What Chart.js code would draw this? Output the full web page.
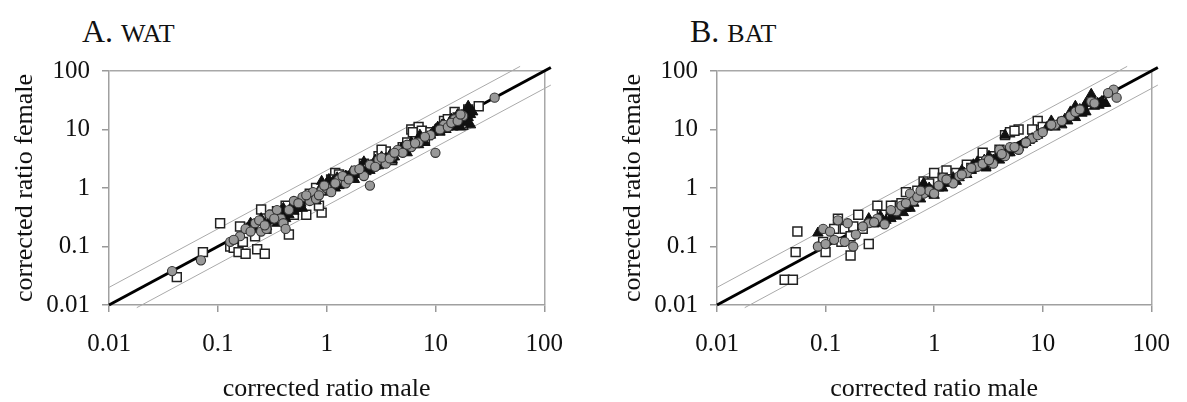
<!DOCTYPE html>
<html>
<head>
<meta charset="utf-8">
<script src="https://cdn.jsdelivr.net/npm/chart.js@4/dist/chart.umd.min.js"></script>
<style>
  body { margin: 0; background: #fff; width: 1187px; height: 402px; position: relative; overflow: hidden; }
  .panel { position: absolute; top: 0; height: 402px; }
  .ttl { position: absolute; font-family: "Liberation Serif", serif; font-size: 32px; color: #111; line-height: 1; }
  .ttl span { font-size: 26px; }
</style>
</head>
<body>
<div class="ttl" style="left:82px; top:15px;">A. <span>WAT</span></div>
<div class="ttl" style="left:690px; top:15px;">B. <span>BAT</span></div>
<div class="panel" style="left:0; width:580px;"><canvas id="wat"></canvas></div>
<div class="panel" style="left:608px; width:579px;"><canvas id="bat"></canvas></div>
<script>
// [male, female] corrected ratios
const watSquares = [[0.042,0.03],[0.073,0.08],[0.105,0.25],[0.13,0.1],[0.14,0.095],[0.155,0.08],[0.16,0.22],
  [0.18,0.075],[0.17,0.12],[0.2,0.21],[0.22,0.15],[0.23,0.09],[0.25,0.43],[0.27,0.075],[0.28,0.2],[0.3,0.3],
  [0.32,0.35],[0.4,0.28],[0.45,0.16],[0.5,0.35],[0.65,0.35],[0.9,0.38],[0.85,0.5],[1.2,1.8],[1.5,1.6],[2.8,2.5],
  [3.5,4.2],[4,3],[6,10],[7,11],[6.5,8],[12,14],[15,20],[20,22],[25,25],[11,10],[18,12],[5,5],[0.7,0.8],[1.0,1.1],
  [0.35,0.4],[0.42,0.5],[0.55,0.55],[0.8,1.0],[1.1,1.4],[1.3,1.7],[2.2,2.6],[3,3.5],[3.2,4.5],[5.5,6],[6.2,9],
  [7.5,9.5],[8,6.5],[9,9],[13,15],[16,16],[19,18]];
const watCircles = [[0.038,0.038],[0.07,0.058],[0.13,0.12],[0.16,0.15],[0.18,0.2],[0.2,0.18],[0.22,0.25],
  [0.25,0.18],[0.28,0.2],[0.3,0.35],[0.35,0.42],[0.38,0.3],[0.4,0.25],[0.42,0.2],[0.5,0.6],[0.6,0.7],[0.7,0.6],
  [0.75,0.85],[0.8,0.65],[0.9,0.9],[1.0,1.0],[1.1,0.85],[1.3,1.4],[1.5,1.2],[1.8,2.0],[2.2,1.6],[2.5,1.1],
  [2.5,2.5],[3.0,3.0],[3.5,2.6],[4,3.5],[4.5,4.5],[5,4],[6,5],[7,6],[9,8],[10,4],[12,12],[15,15],[18,17],[35,35],
  [0.14,0.13],[0.24,0.28],[0.27,0.23],[0.33,0.3],[0.45,0.42],[0.55,0.55],[0.65,0.75],[0.85,0.75],[0.95,1.1],
  [1.2,1.2],[1.4,1.6],[1.6,1.4],[2.0,2.1],[2.8,2.3],[3.2,3.3],[3.8,3.2],[4.2,4.0],[5.5,5.5],[6.5,5.8],[8,7.5],
  [11,10],[13,11],[14,13],[16,14],[17,18]];
const watTriangles = [[0.25,0.3],[0.3,0.28],[0.35,0.25],[0.4,0.45],[0.45,0.35],[0.5,0.4],[0.55,0.5],[0.6,0.45],
  [0.7,0.7],[0.8,0.6],[0.85,0.9],[0.9,1.3],[1.0,1.2],[1.1,1.1],[1.2,1.0],[1.4,1.3],[1.6,1.5],[1.8,1.4],[2.0,2.0],
  [2.2,2.8],[2.5,2.0],[2.8,3.0],[3.0,2.4],[3.5,3.2],[4.0,3.0],[4.5,4.0],[5,5],[5.5,4],[6,6],[7,5.5],[7.5,7],[8,6],
  [10,10],[11,9],[12,12],[13,11],[14,15],[15,12],[16,18],[17,11],[18,13],[19,20],[20,16],[20,25],[21,12],
  [0.2,0.25],[0.22,0.2],[0.28,0.22],[0.32,0.32],[0.38,0.4],[0.42,0.3],[0.48,0.5],[0.52,0.45],[0.58,0.55],
  [0.65,0.6],[0.75,0.8],[0.78,0.65],[0.95,0.85],[1.05,1.4],[1.15,1.3],[1.25,1.5],[1.3,1.1],[1.5,1.6],[1.7,1.9],
  [1.9,1.7],[2.1,2.2],[2.3,1.9],[2.6,2.4],[2.9,2.7],[3.2,3.4],[3.3,2.8],[3.8,3.6],[4.2,3.4],[4.8,4.6],[5.2,4.4],
  [5.8,5.2],[6.5,5.5],[6.8,6.5],[7.2,8],[8.5,7.5],[9,8],[9.5,9],[10.5,11],[11.5,12],[12.5,10],[13.5,13],
  [14.5,11],[15.5,14],[16.5,15],[17.5,16],[18.5,17],[19.5,14],[20.5,22],[21,18],[22,20]];

const batSquares = [[0.042,0.027],[0.05,0.027],[0.053,0.08],[0.055,0.18],[0.1,0.08],[0.095,0.12],[0.12,0.2],
  [0.13,0.3],[0.14,0.12],[0.15,0.2],[0.17,0.07],[0.17,0.15],[0.18,0.22],[0.2,0.35],[0.22,0.2],[0.25,0.11],
  [0.3,0.5],[0.35,0.3],[0.45,0.5],[0.55,0.85],[0.8,1.3],[1.0,1.8],[1.3,2.0],[2.5,2.5],[2.8,4],[3,2.5],[4.5,8],
  [5,9],[6,10],[9,14],[10,11],[2,2.5],[0.28,0.26],[0.33,0.35],[0.4,0.5],[0.5,0.55],[0.7,0.9],[0.9,1.2],[1.2,1.5],
  [1.6,1.8],[2.2,2.2],[3.5,3.5],[5.5,9.5],[8,10],[4,4.5]];
const batCircles = [[0.085,0.1],[0.095,0.2],[0.12,0.13],[0.13,0.28],[0.15,0.12],[0.18,0.1],[0.19,0.16],
  [0.25,0.25],[0.3,0.3],[0.35,0.24],[0.45,0.4],[0.5,0.5],[0.6,0.8],[0.65,0.6],[0.8,0.8],[0.9,0.9],[1.0,0.8],
  [1.2,1.5],[1.5,1.2],[1.7,1.6],[2.0,1.8],[2.5,2.3],[3,3],[3.5,2.6],[4,4.5],[4.5,3.5],[5,5],[6,4.5],[8,7],[9,8],
  [13,12],[18,17],[28,30],[45,48],[48,35],[0.1,0.11],[0.11,0.18],[0.16,0.25],[0.22,0.22],[0.28,0.26],[0.4,0.42],
  [0.55,0.55],[0.7,0.7],[0.75,0.9],[1.1,1.1],[1.3,1.4],[1.8,1.7],[2.2,2.2],[2.8,2.6],[3.2,3.0],[4.2,3.8],
  [5.5,5.0],[7,6],[10,9],[12,12],[15,14],[20,20],[22,22],[30,28],[40,42]];
const batTriangles = [[0.085,0.17],[0.25,0.3],[0.3,0.25],[0.4,0.3],[0.5,0.4],[0.55,0.45],[0.6,0.45],[0.7,0.7],
  [0.8,1.2],[0.9,1.0],[1.0,0.75],[1.2,1.0],[1.3,1.3],[1.6,1.3],[1.8,2.0],[2.0,1.7],[2.5,2.8],[3.0,2.2],[3.2,3.5],
  [4,3],[4.5,8],[5,4],[6,5],[7,6],[8,7],[12,14],[13,11],[15,12],[18,20],[20,25],[20,16],[22,22],[25,20],[28,40],
  [30,25],[32,28],[35,30],[38,28],[25,28],[0.32,0.33],[0.36,0.28],[0.42,0.38],[0.45,0.33],[0.48,0.45],[0.52,0.38],
  [0.58,0.5],[0.65,0.55],[0.75,0.65],[0.85,0.8],[0.95,0.9],[1.1,1.0],[1.15,1.2],[1.4,1.2],[1.5,1.5],[1.7,1.5],
  [1.9,1.8],[2.2,2.0],[2.3,2.5],[2.7,2.4],[2.9,3.0],[3.5,3.0],[3.8,3.4],[4.2,4.2],[4.8,4.0],[5.5,4.5],[6.5,5.5],
  [7.5,6.5],[9,8],[11,11],[12.5,12],[14,13],[16,15],[17,14],[19,18],[21,20],[23,19],[24,24],[27,30],[29,32],
  [33,26],[36,28]];

// reference lines: identity and 2-fold limits
const identityLine = [[0.01,0.01],[115,115]];
const upperLine = [[0.01,0.02],[60,120]];
const lowerLine = [[0.018,0.009],[115,57.5]];

const tickValues = [0.01, 0.1, 1, 10, 100];
const tickLabels = ['0.01', '0.1', '1', '10', '100'];

const serif = '"Liberation Serif", "Times New Roman", serif';
const pts = arr => arr.map(p => ({ x: p[0], y: p[1] }));

function lineSet(arr, color, width) {
  return { type: 'line', data: pts(arr), borderColor: color, borderWidth: width,
    pointRadius: 0, fill: false, clip: false, order: 10 };
}

function axis(isX) {
  return {
    type: 'logarithmic', min: 0.01, max: 100,
    afterBuildTicks: s => { s.ticks = tickValues.map(v => ({ value: v })); },
    afterFit: s => { if (isX) s.height = 97; else s.width = 109; },
    ticks: {
      color: '#111', padding: isX ? 17 : 12,
      font: { family: serif, size: 25 },
      maxRotation: 0, autoSkip: false,
      callback: v => tickLabels[tickValues.indexOf(v)]
    },
    grid: {
      color: c => (c.tick && c.tick.value === 100) ? '#a8a8a8' : 'rgba(0,0,0,0)',
      tickColor: '#999', tickLength: 7, lineWidth: 1.5
    },
    border: { display: true, color: '#a0a0a0', width: 1.5 },
    title: {
      display: true,
      text: isX ? 'corrected ratio male' : 'corrected ratio female',
      color: '#111', font: { family: serif, size: 26, lineHeight: 1 },
      padding: isX ? { top: 0, bottom: 0 } : { top: 12, bottom: 0 }
    }
  };
}

function makeChart(id, squares, circles, triangles, padRight) {
  new Chart(document.getElementById(id), {
    type: 'scatter',
    data: {
      datasets: [
        { label: 'squares', data: pts(squares), pointStyle: 'rect', pointRadius: 6.3,
          backgroundColor: '#fff', borderColor: '#222', borderWidth: 1.5, order: 3 },
        { label: 'triangles', data: pts(triangles), pointStyle: 'triangle', pointRadius: 6,
          backgroundColor: '#111', borderColor: '#111', borderWidth: 1, order: 2 },
        { label: 'circles', data: pts(circles), pointStyle: 'circle', pointRadius: 4.6,
          backgroundColor: '#999', borderColor: '#333', borderWidth: 1.1, order: 1 },
        lineSet(identityLine, '#000', 3),
        lineSet(upperLine, '#aaa', 1),
        lineSet(lowerLine, '#aaa', 1)
      ]
    },
    options: {
      responsive: true,
      maintainAspectRatio: false,
      animation: false,
      layout: { padding: { top: 71, right: padRight, left: 0, bottom: 0 } },
      plugins: { legend: { display: false }, tooltip: { enabled: false } },
      scales: { x: axis(true), y: axis(false) }
    }
  });
}

makeChart('wat', watSquares, watCircles, watTriangles, 26);
makeChart('bat', batSquares, batCircles, batTriangles, 24);
</script>
</body>
</html>
